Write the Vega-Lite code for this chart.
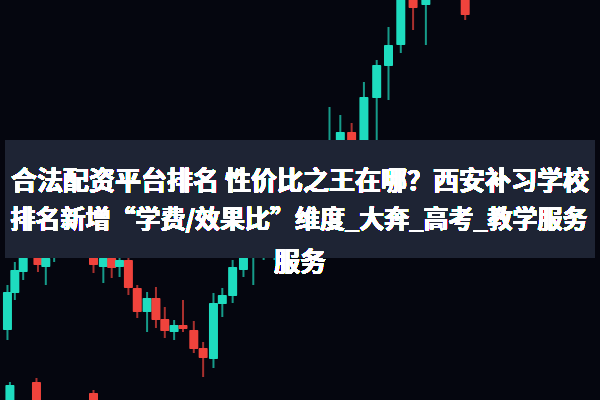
{
  "$schema": "https://vega.github.io/schema/vega-lite/v6.json",
  "width": 600,
  "height": 400,
  "autosize": {"type": "fit", "contains": "padding"},
  "padding": 0,
  "background": "#05060f",
  "config": {"view": {"stroke": null}},
  "data": {"values": [
    {"t": 2.5, "dir": "up", "o": 70, "c": 108, "h": 115, "l": 60},
    {"t": 10, "dir": "up", "o": 107, "c": 130, "h": 138, "l": 100},
    {"t": 18.5, "dir": "up", "o": 128, "c": 148, "h": 155, "l": 120},
    {"t": 26.5, "dir": "up", "o": 150, "c": 168, "h": 180, "l": 142},
    {"t": 33.5, "dir": "down", "o": 160, "c": 135, "h": 175, "l": 128},
    {"t": 41.5, "dir": "up", "o": 133, "c": 142, "h": 150, "l": 115},
    {"t": 50, "dir": "up", "o": 145, "c": 165, "h": 175, "l": 138},
    {"t": 65.5, "dir": "down", "o": 172, "c": 152, "h": 185, "l": 145},
    {"t": 75, "dir": "up", "o": 155, "c": 172, "h": 180, "l": 150},
    {"t": 82.5, "dir": "down", "o": 185, "c": 155, "h": 205, "l": 145},
    {"t": 90, "dir": "down", "o": 155, "c": 135, "h": 167, "l": 127},
    {"t": 100, "dir": "up", "o": 133, "c": 142, "h": 153, "l": 117},
    {"t": 108.5, "dir": "down", "o": 142, "c": 132, "h": 155, "l": 122},
    {"t": 116.5, "dir": "up", "o": 133, "c": 140, "h": 148, "l": 123},
    {"t": 125.5, "dir": "down", "o": 140, "c": 112, "h": 150, "l": 105},
    {"t": 134.5, "dir": "down", "o": 112, "c": 88, "h": 115, "l": 82},
    {"t": 144.5, "dir": "up", "o": 88, "c": 102, "h": 108, "l": 68},
    {"t": 153.5, "dir": "down", "o": 102, "c": 80, "h": 113, "l": 72},
    {"t": 162.5, "dir": "down", "o": 81, "c": 69, "h": 93, "l": 62},
    {"t": 172, "dir": "up", "o": 68, "c": 75, "h": 80, "l": 60},
    {"t": 181, "dir": "down", "o": 75, "c": 71, "h": 100, "l": 68},
    {"t": 192, "dir": "down", "o": 70, "c": 51, "h": 79, "l": 47},
    {"t": 201.5, "dir": "down", "o": 52, "c": 42, "h": 58, "l": 23},
    {"t": 212, "dir": "up", "o": 41, "c": 97, "h": 107, "l": 32},
    {"t": 221, "dir": "up", "o": 96, "c": 105, "h": 112, "l": 83},
    {"t": 231.5, "dir": "up", "o": 104, "c": 133, "h": 140, "l": 97},
    {"t": 242.5, "dir": "up", "o": 130, "c": 148, "h": 152, "l": 123},
    {"t": 252.5, "dir": "up", "o": 147, "c": 150, "h": 152, "l": 115},
    {"t": 263, "dir": "up", "o": 148, "c": 158, "h": 170, "l": 140},
    {"t": 274, "dir": "up", "o": 160, "c": 180, "h": 188, "l": 140},
    {"t": 285, "dir": "up", "o": 186, "c": 200, "h": 210, "l": 172},
    {"t": 295.5, "dir": "up", "o": 195, "c": 210, "h": 220, "l": 183},
    {"t": 308.5, "dir": "up", "o": 203, "c": 220, "h": 233, "l": 200},
    {"t": 319, "dir": "up", "o": 228, "c": 243, "h": 253, "l": 210},
    {"t": 330, "dir": "up", "o": 245, "c": 260, "h": 293, "l": 217},
    {"t": 341, "dir": "up", "o": 258, "c": 268, "h": 285, "l": 240},
    {"t": 352.5, "dir": "down", "o": 268, "c": 235, "h": 277, "l": 230},
    {"t": 365, "dir": "up", "o": 250, "c": 303, "h": 318, "l": 225},
    {"t": 378, "dir": "up", "o": 302, "c": 335, "h": 340, "l": 235},
    {"t": 390, "dir": "up", "o": 334, "c": 355, "h": 373, "l": 300},
    {"t": 402.5, "dir": "up", "o": 355, "c": 410, "h": 420, "l": 347},
    {"t": 415, "dir": "down", "o": 410, "c": 392, "h": 420, "l": 370},
    {"t": 428, "dir": "up", "o": 395, "c": 410, "h": 420, "l": 355},
    {"t": 468, "dir": "down", "o": 410, "c": 385, "h": 420, "l": 380},
    {"t": 5, "dir": "up", "o": -10, "c": 15, "h": 18, "l": -10},
    {"t": 32, "dir": "down", "o": 18, "c": -10, "h": 22, "l": -10},
    {"t": 90, "dir": "down", "o": 7, "c": -10, "h": 10, "l": -10}
  ]},
  "layer": [
    {
      "mark": {"type": "rule", "strokeWidth": 2, "opacity": 0.7, "clip": true},
      "encoding": {
        "x": {"field": "t", "type": "quantitative", "scale": {"domain": [0, 600], "nice": false, "zero": false}, "axis": null},
        "y": {"field": "l", "type": "quantitative", "scale": {"domain": [0, 400], "nice": false, "zero": false}, "axis": null},
        "y2": {"field": "h"},
        "color": {"field": "dir", "type": "nominal", "scale": {"domain": ["up", "down"], "range": ["#1edcbf", "#f0433c"]}, "legend": null}
      }
    },
    {
      "mark": {"type": "bar", "size": 9, "clip": true, "cornerRadius": 1},
      "encoding": {
        "x": {"field": "t", "type": "quantitative", "scale": {"domain": [0, 600], "nice": false, "zero": false}, "axis": null},
        "y": {"field": "o", "type": "quantitative", "scale": {"domain": [0, 400], "nice": false, "zero": false}, "axis": null},
        "y2": {"field": "c"},
        "color": {"field": "dir", "type": "nominal", "scale": {"domain": ["up", "down"], "range": ["#1edcbf", "#f0433c"]}, "legend": null}
      }
    },
    {
      "mark": {"type": "rect", "color": "#1e2534", "opacity": 0.82},
      "encoding": {
        "x": {"datum": 0, "type": "quantitative"},
        "x2": {"datum": 600},
        "y": {"datum": 142, "type": "quantitative"},
        "y2": {"datum": 260}
      }
    },
    {
      "mark": {"type": "text", "color": "#ffffff", "font": "Noto Sans CJK SC", "fontWeight": "bold", "fontSize": 26, "align": "center", "baseline": "middle"},
      "encoding": {
        "x": {"datum": 300, "type": "quantitative"},
        "y": {"datum": 218, "type": "quantitative"},
        "text": {"value": "合法配资平台排名 性价比之王在哪？西安补习学校"}
      }
    },
    {
      "mark": {"type": "text", "color": "#ffffff", "font": "Noto Sans CJK SC", "fontWeight": "bold", "fontSize": 25, "align": "center", "baseline": "middle"},
      "encoding": {
        "x": {"datum": 299, "type": "quantitative"},
        "y": {"datum": 180, "type": "quantitative"},
        "text": {"value": "排名新增“学费/效果比”维度_大奔_高考_教学服务"}
      }
    },
    {
      "mark": {"type": "text", "color": "#ffffff", "font": "Noto Sans CJK SC", "fontWeight": "bold", "fontSize": 26, "align": "center", "baseline": "middle"},
      "encoding": {
        "x": {"datum": 300, "type": "quantitative"},
        "y": {"datum": 137, "type": "quantitative"},
        "text": {"value": "服务"}
      }
    }
  ]
}
